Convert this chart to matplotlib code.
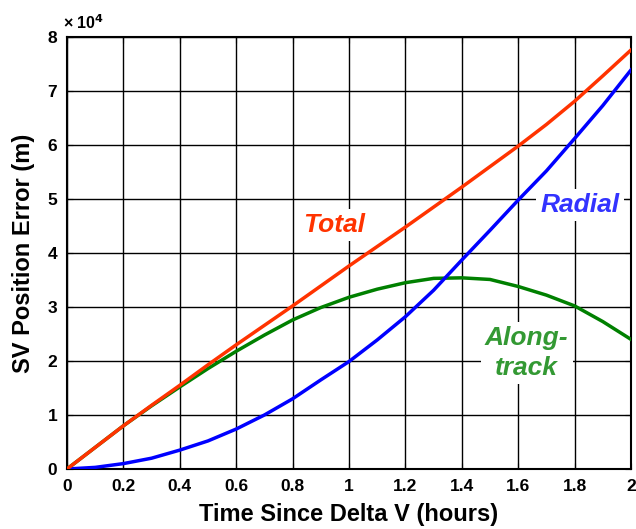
import numpy as np
import matplotlib
matplotlib.use("Agg")
import matplotlib.pyplot as plt

plt.rcParams['font.family'] = ['Liberation Sans', 'DejaVu Sans']
plt.rcParams['font.weight'] = 'bold'

##########################

t = [0, 0.1, 0.2, 0.3, 0.4, 0.5, 0.6, 0.7, 0.8, 0.9, 1.0,
     1.1, 1.2, 1.3, 1.4, 1.5, 1.6, 1.7, 1.8, 1.9, 2.0]
# values in units of 1e4 m
total = [0, 0.4, 0.8, 1.18, 1.55, 1.93, 2.3, 2.66, 3.02, 3.39, 3.76,
         4.12, 4.48, 4.85, 5.22, 5.6, 5.98, 6.38, 6.81, 7.28, 7.76]
radial = [0, 0.03, 0.1, 0.2, 0.35, 0.52, 0.74, 1.0, 1.3, 1.65, 1.99,
          2.39, 2.82, 3.31, 3.87, 4.42, 4.98, 5.52, 6.12, 6.73, 7.39]
along = [0, 0.4, 0.8, 1.17, 1.52, 1.86, 2.18, 2.48, 2.76, 2.99, 3.18,
         3.33, 3.45, 3.53, 3.54, 3.51, 3.38, 3.22, 3.02, 2.73, 2.40]

##########################

fig = plt.figure(figsize=(6.36, 5.29), dpi=100)
ax = fig.add_axes([67/636, 60/529, 564/636, 432/529])

ax.plot(t, along, color="#008000", lw=2.5, zorder=3)
ax.plot(t, radial, color="#0000FF", lw=2.5, zorder=3)
ax.plot(t, total, color="#FF3300", lw=2.5, zorder=4)

ax.set_xlim(0, 2)
ax.set_ylim(0, 8)
ax.set_xticks(np.arange(0, 2.01, 0.2))
ax.set_xticklabels(["0", "0.2", "0.4", "0.6", "0.8", "1", "1.2", "1.4", "1.6", "1.8", "2"])
ax.set_yticks(np.arange(0, 9))
ax.grid(True, color="black", lw=1)
ax.tick_params(direction="in", labelsize=12.5, top=True, right=True, length=4, pad=7)
for s in ax.spines.values():
    s.set_linewidth(1.5)

ax.set_xlabel("Time Since Delta V (hours)", fontsize=17, fontweight="bold", labelpad=7)
ax.set_ylabel("SV Position Error (m)", fontsize=17, fontweight="bold", labelpad=9)
ax.text(-0.007, 1.018, "× 10$^{\\mathbf{4}}$", transform=ax.transAxes, fontsize=11.5,
        fontweight="bold", ha="left", va="baseline")

box = dict(facecolor="white", edgecolor="none", pad=3)
ax.text(0.947, 4.52, "Total", color="#FF3300", fontsize=19, fontstyle="italic",
        fontweight="bold", ha="center", va="center", bbox=box, zorder=5)
ax.text(1.82, 4.89, "Radial", color="#3333FF", fontsize=19, fontstyle="italic",
        fontweight="bold", ha="center", va="center", bbox=box, zorder=5)
ax.text(1.63, 2.15, "Along-\ntrack", color="#339933", fontsize=19, fontstyle="italic",
        fontweight="bold", ha="center", va="center", bbox=box, zorder=5,
        linespacing=1.32)

plt.savefig("out.png", dpi=100)
plt.close()
